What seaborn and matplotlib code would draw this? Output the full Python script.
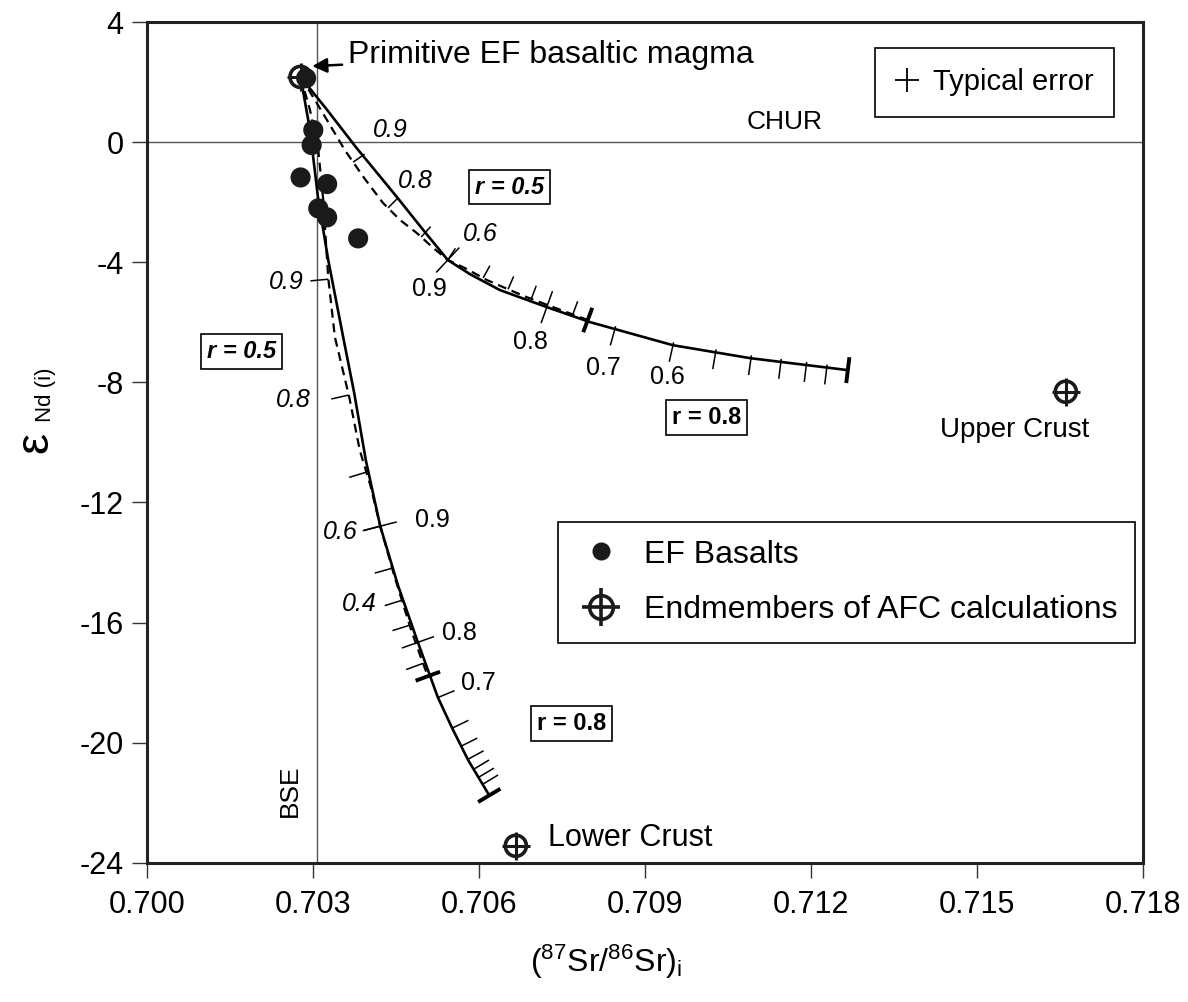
import numpy as np
import pandas as pd
import matplotlib
matplotlib.use("Agg")
import matplotlib.pyplot as plt
import seaborn as sns
from matplotlib.lines import Line2D

# ---------------- data ----------------
basalt_sr = [0.70287, 0.70300, 0.70297, 0.70277, 0.70325, 0.70309, 0.70325, 0.70381]
basalt_nd = [2.14, 0.41, -0.09, -1.17, -1.39, -2.20, -2.50, -3.20]

end_names = ["Primitive EF basaltic magma", "Upper Crust", "Lower Crust"]
end_sr = [0.70277, 0.71660, 0.70666]
end_nd = [2.18, -8.31, -23.44]

chur_nd = 0.0
bse_sr = 0.70306

# AFC curves towards upper crust
uc08_sr = [0.70277, 0.70325, 0.70377, 0.70451, 0.70496, 0.70543, 0.70583, 0.70637,
           0.70722, 0.70800, 0.70950, 0.71089, 0.71266]
uc08_nd = [2.18, 1.08, -0.16, -1.82, -2.86, -3.92, -4.39, -4.92, -5.49, -5.99, -6.76, -7.19, -7.59]
uc05_sr = [0.70277, 0.70303, 0.70330, 0.70357, 0.70392, 0.70426, 0.70457, 0.70487, 0.70515,
           0.70543, 0.70574, 0.70614, 0.70655, 0.70686, 0.70758, 0.70796]
uc05_nd = [2.18, 1.41, 0.58, -0.26, -1.19, -2.02, -2.59, -3.02, -3.49, -3.92, -4.19, -4.59,
           -4.92, -5.16, -5.66, -5.92]

# AFC curves towards lower crust
lc08_sr = [0.70277, 0.70294, 0.70309, 0.70327, 0.70354, 0.70374, 0.70395, 0.70421, 0.70453,
           0.70489, 0.70525, 0.70551, 0.70580, 0.70618]
lc08_nd = [2.18, 0.41, -1.92, -3.92, -6.49, -8.36, -10.60, -12.79, -14.76, -16.66, -18.49,
           -19.52, -20.59, -21.76]
lc05_sr = [0.70277, 0.70294, 0.70309, 0.70318, 0.70327, 0.70339, 0.70365, 0.70384, 0.70403,
           0.70421, 0.70446, 0.70464, 0.70477, 0.70493, 0.70507]
lc05_nd = [2.18, 1.08, -0.26, -1.92, -4.52, -6.49, -8.49, -10.26, -11.42, -12.79, -14.42,
           -15.49, -16.26, -17.09, -17.79]

# F (melt fraction) tick positions along curves (last entry = end of curve)
uc08_tick_sr = [0.70543, 0.70722, 0.70845, 0.70950, 0.71027, 0.71091, 0.71145, 0.71191, 0.71228]
uc08_end_sr = 0.71266
uc05_tick_sr = [0.70372, 0.70435, 0.70495, 0.70543, 0.70607, 0.70652, 0.70694, 0.70769]
uc05_end_sr = 0.70796
lc08_tick_nd = [-12.79, -16.66, -18.50, -19.52, -20.12, -20.56, -20.89, -21.16, -21.39]
lc08_end_nd = -21.76
lc05_tick_nd = [-4.56, -8.42, -10.99, -12.79, -14.19, -15.26, -16.09, -17.36]
lc05_end_nd = -17.79

# F labels: (text, sr, nd)
uc05_labels = [("0.9", 0.70439, 0.41), ("0.8", 0.70484, -1.29), ("0.6", 0.70601, -3.06)]
uc08_labels = [("0.9", 0.70509, -4.89), ("0.8", 0.70692, -6.66), ("0.7", 0.70825, -7.52),
               ("0.6", 0.70939, -7.82)]
lc05_labels = [("0.9", 0.70251, -4.66), ("0.8", 0.70263, -8.60), ("0.6", 0.70348, -12.99),
               ("0.4", 0.70384, -15.39)]
lc08_labels = [("0.9", 0.70516, -12.59), ("0.8", 0.70565, -16.36), ("0.7", 0.70598, -18.02)]

x_ticks = [0.700, 0.703, 0.706, 0.709, 0.712, 0.715, 0.718]
y_ticks = [4, 0, -4, -8, -12, -16, -20, -24]

# ---------------- style ----------------
sns.set_theme(style="white")
plt.rcParams["font.family"] = ["Liberation Sans", "DejaVu Sans"]
plt.rcParams["mathtext.fontset"] = "custom"
plt.rcParams["mathtext.rm"] = "Liberation Sans"
plt.rcParams["text.color"] = "black"
plt.rcParams["axes.labelcolor"] = "black"
plt.rcParams["xtick.color"] = "black"
plt.rcParams["ytick.color"] = "black"

fig = plt.figure(figsize=(11.88, 10.02), dpi=100)
ax = fig.add_axes([147.3 / 1188, 1 - 862.6 / 1002, 996 / 1188, 840.3 / 1002])
ax.set_xlim(0.700, 0.718)
ax.set_ylim(-24, 4)

# reference lines
ax.axhline(chur_nd, color="#555555", lw=1.0, zorder=1)
ax.axvline(bse_sr, color="#555555", lw=1.0, zorder=1)

# curves
def curve_df(sr, nd):
    return pd.DataFrame({"sr": sr, "nd": nd})

for sr, nd, dashed in [(uc08_sr, uc08_nd, False), (uc05_sr, uc05_nd, True),
                       (lc08_sr, lc08_nd, False), (lc05_sr, lc05_nd, True)]:
    sns.lineplot(data=curve_df(sr, nd), x="sr", y="nd", sort=False, estimator=None,
                 color="black", lw=1.9, ax=ax, zorder=3)
    if dashed:
        ax.lines[-1].set_dashes([4.0, 2.6])
        ax.lines[-1].set_linewidth(1.6)

T = ax.transData
Tinv = T.inverted()

def point_on(sr, nd, key, by):
    sr = np.asarray(sr); nd = np.asarray(nd)
    if by == "x":
        return np.array([key, np.interp(key, sr, nd)])
    return np.array([np.interp(key, nd[::-1], sr[::-1]), key])

def draw_ticks(sr, nd, keys, by, a, b, lw):
    if by == "x":
        lo, hi = min(sr), max(sr)
    else:
        lo, hi = min(nd), max(nd)
    eps = (hi - lo) * 0.01
    for k in keys:
        if by == "x":
            k0, k1 = max(lo, k - eps), min(hi, k + eps)
        else:
            k0, k1 = min(hi, k + eps), max(lo, k - eps)
        p0 = T.transform(point_on(sr, nd, k0, by))
        p1 = T.transform(point_on(sr, nd, k1, by))
        d = (p1 - p0) / np.hypot(*(p1 - p0))
        n = np.array([-d[1], d[0]])
        p = T.transform(point_on(sr, nd, k, by))
        q = Tinv.transform(np.vstack([p + n * a, p + n * b]))
        ax.plot(q[:, 0], q[:, 1], color="black", lw=lw, solid_capstyle="butt", zorder=4)

# upper crust r=0.8 (solid): first two cross the line, rest below
draw_ticks(uc08_sr, uc08_nd, uc08_tick_sr[:2], "x", -17, 17, 1.1)
draw_ticks(uc08_sr, uc08_nd, uc08_tick_sr[2:], "x", -17, 3, 1.1)
draw_ticks(uc08_sr, uc08_nd, [uc08_end_sr], "x", -13, 13, 2.8)
# upper crust r=0.5 (dashed): ticks above
draw_ticks(uc05_sr, uc05_nd, uc05_tick_sr, "x", 0, 14, 1.1)
draw_ticks(uc05_sr, uc05_nd, [uc05_end_sr], "x", -13, 13, 2.8)
# lower crust r=0.8 (solid): ticks to the right
draw_ticks(lc08_sr, lc08_nd, lc08_tick_nd[:2], "y", -17, 17, 1.1)
draw_ticks(lc08_sr, lc08_nd, lc08_tick_nd[2:], "y", 0, 18, 1.1)
draw_ticks(lc08_sr, lc08_nd, [lc08_end_nd], "y", -13, 13, 2.8)
# lower crust r=0.5 (dashed): ticks to the left
draw_ticks(lc05_sr, lc05_nd, lc05_tick_nd, "y", -18, 0, 1.1)
draw_ticks(lc05_sr, lc05_nd, [lc05_end_nd], "y", -13, 13, 2.8)

# F labels
for txt, x, y in uc05_labels + lc05_labels:
    ax.text(x, y, txt, fontsize=18, fontstyle="italic", ha="center", va="center", zorder=5)
for txt, x, y in uc08_labels + lc08_labels:
    ax.text(x, y, txt, fontsize=18, ha="center", va="center", zorder=5)

# data points
sns.scatterplot(x=basalt_sr, y=basalt_nd, ax=ax, s=210, color="#1a1a1a",
                edgecolor="none", zorder=6, legend=False)
sns.scatterplot(x=end_sr, y=end_nd, ax=ax, s=230, marker="o", facecolor="none",
                edgecolor="#1a1a1a", linewidth=2.6, zorder=7, legend=False)
sns.scatterplot(x=end_sr, y=end_nd, ax=ax, s=400, marker="+", color="#1a1a1a",
                linewidth=2.2, zorder=7, legend=False)

# r boxes
box = dict(boxstyle="square,pad=0.25", fc="white", ec="black", lw=1.2)
ax.text(0.70655, -1.49, "r = 0.5", fontsize=17, fontweight="bold", fontstyle="italic",
        ha="center", va="center", bbox=box, zorder=5)
ax.text(0.70171, -6.98, "r = 0.5", fontsize=17, fontweight="bold", fontstyle="italic",
        ha="center", va="center", bbox=box, zorder=5)
ax.text(0.71011, -9.16, "r = 0.8", fontsize=17, fontweight="bold",
        ha="center", va="center", bbox=box, zorder=5)
ax.text(0.70766, -19.36, "r = 0.8", fontsize=17, fontweight="bold",
        ha="center", va="center", bbox=box, zorder=5)

# annotations
ax.annotate(end_names[0], xy=(0.70298, 2.54), xytext=(0.70363, 2.91), fontsize=23,
            ha="left", va="center", zorder=8,
            arrowprops=dict(arrowstyle="-|>", color="black", lw=1.8, mutation_scale=22,
                            shrinkA=2, shrinkB=0))
ax.text(0.71152, 0.68, "CHUR", fontsize=19, ha="center", va="center")
ax.text(0.70258, -21.6, "BSE", fontsize=19, ha="center", va="center", rotation=90)
ax.text(0.71568, -9.59, end_names[1], fontsize=20, ha="center", va="center")
ax.text(0.70724, -23.19, end_names[2], fontsize=22, ha="left", va="center")

# legends
h_bas = Line2D([], [], ls="none", marker="o", ms=13, mfc="#1a1a1a", mec="none")
h_end = (Line2D([], [], ls="none", marker="o", ms=17, mfc="none", mec="#1a1a1a", mew=2.6),
         Line2D([], [], ls="none", marker="+", ms=28, mec="#1a1a1a", mew=2.6))
leg1 = ax.legend([h_bas, h_end], ["EF Basalts", "Endmembers of AFC calculations"],
                 loc="upper left", bbox_to_anchor=(0.4124, 0.4053), borderaxespad=0,
                 fontsize=23, frameon=True, fancybox=False, edgecolor="black",
                 framealpha=1, handlelength=1.6, handletextpad=0.53, labelspacing=0.8,
                 borderpad=0.55)
leg1.get_frame().set_linewidth(1.2)
ax.add_artist(leg1)
h_err = Line2D([], [], ls="none", marker="+", ms=17, mec="black", mew=1.3)
leg2 = ax.legend([h_err], ["Typical error"], loc="upper right",
                 bbox_to_anchor=(0.9704, 0.9694), borderaxespad=0, fontsize=21,
                 frameon=True, fancybox=False, edgecolor="black", framealpha=1,
                 handlelength=0.8, handletextpad=0.47, borderpad=0.7)
leg2.get_frame().set_linewidth(1.2)

# axes styling
ax.set_xticks(x_ticks)
ax.set_xticklabels([f"{v:.3f}" for v in x_ticks])
ax.set_yticks(y_ticks)
ax.set_yticklabels([str(v) for v in y_ticks])
ax.tick_params(axis="both", direction="out", length=11, width=1.0, color="#333333",
               labelsize=22, labelcolor="black")
ax.tick_params(axis="x", pad=9)
ax.tick_params(axis="y", pad=6)
ax.tick_params(left=True, bottom=True)
for s in ax.spines.values():
    s.set_visible(True)
    s.set_color("#222222")
    s.set_linewidth(2.2)
ax.set_xlabel(r"$\mathregular{(^{87}Sr/^{86}Sr)_i}$", fontsize=23)
ax.xaxis.set_label_coords(0.4605, -0.0957)
ax.xaxis.label.set_va("top")
ax.set_ylabel("")
fig.text(35 / 1188, 1 - 442 / 1002, "ε", rotation=90, fontsize=34, ha="center", va="center")
fig.text(46 / 1188, 1 - 395 / 1002, "Nd (i)", rotation=90, fontsize=16, ha="center",
         va="center")

fig.savefig("out.png", dpi=100)
